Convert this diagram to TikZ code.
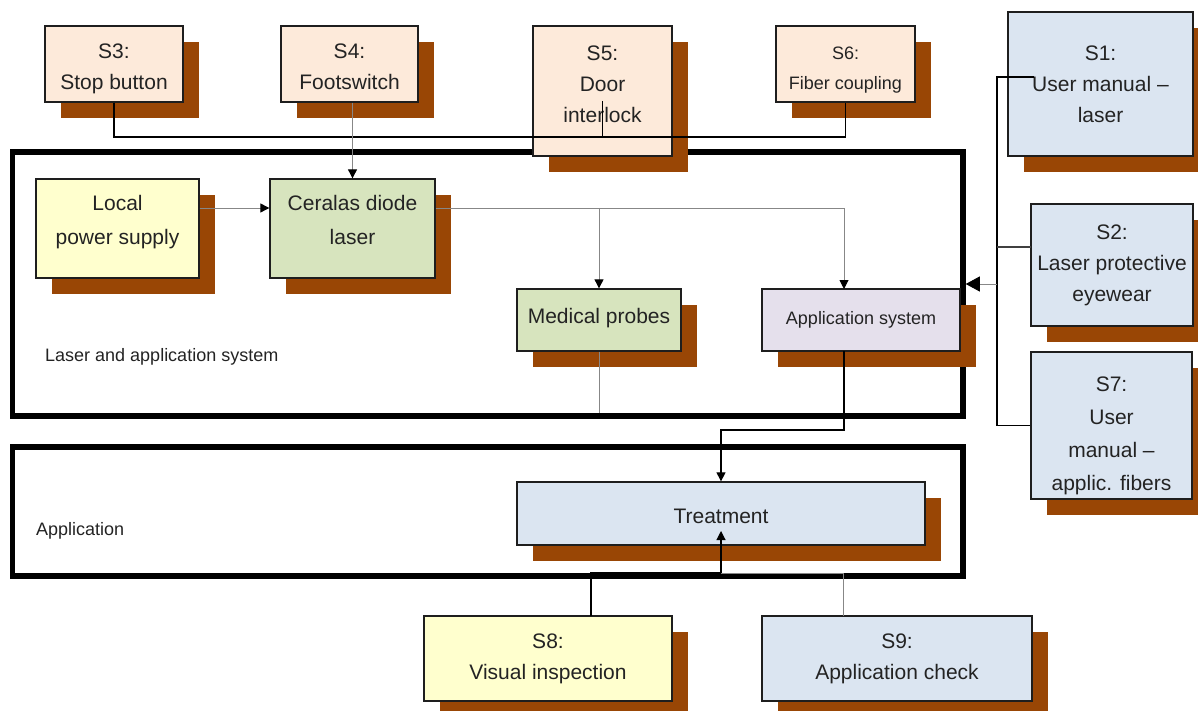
\documentclass[tikz,border=0pt]{standalone}
\usepackage{fontspec}
\setmainfont{Liberation Sans}
\usetikzlibrary{shadows,arrows.meta}
\pgfdeclarelayer{back}
\pgfdeclarelayer{frame}
\pgfdeclarelayer{front}
\pgfsetlayers{back,frame,main,front}
\definecolor{shbrown}{RGB}{153,70,5}
\definecolor{peach}{RGB}{253,234,218}
\definecolor{lyellow}{RGB}{255,255,206}
\definecolor{lgreen}{RGB}{215,228,190}
\definecolor{lblue}{RGB}{219,229,241}
\definecolor{lpurple}{RGB}{229,224,236}
\definecolor{boxline}{RGB}{30,30,30}
\definecolor{txt}{RGB}{35,35,35}
\definecolor{gline}{RGB}{135,135,135}
\newcommand{\tbx}[2]{\raisebox{#1}[\height][\depth]{\begin{tabular}{@{}c@{}}#2\end{tabular}}}
\begin{document}
\begin{tikzpicture}[x=1pt,y=-1pt,
  box/.style={draw=boxline, line width=1.3pt, align=center, inner sep=0pt, text=txt,
    font=\fontsize{21}{31}\selectfont,
    drop shadow={shadow xshift=16pt, shadow yshift=-16pt, opacity=1, fill=shbrown}},
  smalltxt/.style={font=\fontsize{18}{30}\selectfont},
  frm/.style={draw=black, line width=5.5pt, inner sep=0pt},
  lbl/.style={anchor=west, inner sep=0pt, text=txt, font=\fontsize{18}{22}\selectfont},
  conn/.style={draw=black, line width=1.1pt},
  gconn/.style={draw=gline, line width=0.9pt},
  arr/.style={-{Triangle[length=9pt,width=9pt,color=black]}},
  bigarr/.style={-{Triangle[length=14pt,width=15pt,color=black]}}
]
\useasboundingbox (0,0) rectangle (1198,711);
\clip (0,0) rectangle (1198,711);

% frames
\begin{pgfonlayer}{frame}
\node[frm, minimum width=950.3pt, minimum height=264pt] (frameA) at (487.85,284) {};
\node[frm, minimum width=950.5pt, minimum height=129pt] (frameB) at (487.75,511.5) {};
\node[lbl] (lblA) at (45,357) {Laser and application system};
\node[lbl] (lblB) at (36,531) {Application};
\end{pgfonlayer}

% top safety boxes
\node[box, fill=peach, minimum width=138pt, minimum height=76pt] (s3) at (114,64) {\tbx{-4pt}{S3:\\Stop button}};
\node[box, fill=peach, minimum width=137pt, minimum height=76pt] (s4) at (349.5,64) {\tbx{-4pt}{S4:\\Footswitch}};
\node[box, fill=peach, minimum width=139pt, minimum height=130pt] (s5) at (602.5,91) {\tbx{6pt}{S5:\\Door\\interlock}};
\node[box, smalltxt, fill=peach, minimum width=139pt, minimum height=76pt] (s6) at (845.5,64) {\tbx{-5pt}{S6:\\Fiber coupling}};

% right boxes
\node[box, fill=lblue, minimum width=185pt, minimum height=144pt] (s1) at (1100.5,84) {S1:\\User manual –\\laser};
\node[box, fill=lblue, minimum width=162pt, minimum height=122pt] (s2) at (1112,265) {S2:\\Laser protective\\eyewear};
\node[box, fill=lblue, minimum width=161pt, minimum height=147pt, font=\fontsize{21}{33}\selectfont] (s7) at (1111.5,425.5) {\tbx{-9pt}{S7:\\User\\manual –\\applic. fibers}};

% laser system
\node[box, fill=lyellow, minimum width=163pt, minimum height=99pt, font=\fontsize{21}{34}\selectfont] (local) at (117.5,228.5) {\tbx{8pt}{Local\\power supply}};
\node[box, fill=lgreen, minimum width=165pt, minimum height=99pt, font=\fontsize{21}{34}\selectfont] (ceralas) at (352.5,228.5) {\tbx{8pt}{Ceralas diode\\laser}};
\node[box, fill=lgreen, minimum width=164pt, minimum height=62pt] (probes) at (599,320) {\tbx{3pt}{Medical probes}};
\node[box, smalltxt, fill=lpurple, minimum width=198pt, minimum height=62pt] (appsys) at (861,320) {\tbx{2pt}{Application system}};

% application
\node[box, fill=lblue, minimum width=408pt, minimum height=63pt] (treat) at (721,513.5) {\tbx{-4pt}{Treatment}};
\node[box, fill=lyellow, minimum width=248pt, minimum height=85pt] (s8) at (548,658.5) {S8:\\Visual inspection};
\node[box, fill=lblue, minimum width=270pt, minimum height=85pt] (s9) at (897,658.5) {S9:\\Application check};

% helper coordinates
\coordinate (y208) at (0,208);
\coordinate (s5p) at (602.5,101);
\coordinate (apin) at (844,289);
\coordinate (apout) at (844,351);
\coordinate (tin) at (721,531);
\coordinate (s8out) at (591,616);
\coordinate (s9out) at (843,616);
\coordinate (s1in) at (1034,77);
\coordinate (s2out) at (1031,247);
\coordinate (busR) at (997,284);

% probes connector, horizontal part hidden under the frame
\begin{pgfonlayer}{back}
\draw[gconn] (599,412) -- (599,416) -- (721,416);
\end{pgfonlayer}

\begin{pgfonlayer}{front}
% top bus
\draw[conn] (s3.south) -- (114,137) -- (845.5,137) -- (s6.south);
\draw[conn] (s5p) -- (602.5,137);
\draw[gconn, arr] (ceralas.north |- s4.south) -- (ceralas.north);
% laser chain
\draw[gconn, arr] (local.east |- y208) -- (ceralas.west |- y208);
\draw[gconn, arr] (ceralas.east |- y208) -| (apin);
\draw[gconn, arr] (probes.north |- y208) -- (probes.north);
\draw[gconn] (probes.south) -- (599,412);
% to treatment
\draw[conn, arr] (apout) -- (844,430) -| (treat.north);
\draw[conn, arr] (s8out) |- (721,573) -- (tin);
\draw[gconn] (s9out) |- (721,573);
% right bus
\draw[conn] (s1in) -- (997,77) -- (997,425.5) -- (s7.west);
\draw[conn, draw=black!75] (s2out) -- (997,247);
\draw[gconn, bigarr] (busR) -- (frameA.east);
\end{pgfonlayer}
\end{tikzpicture}
\end{document}
